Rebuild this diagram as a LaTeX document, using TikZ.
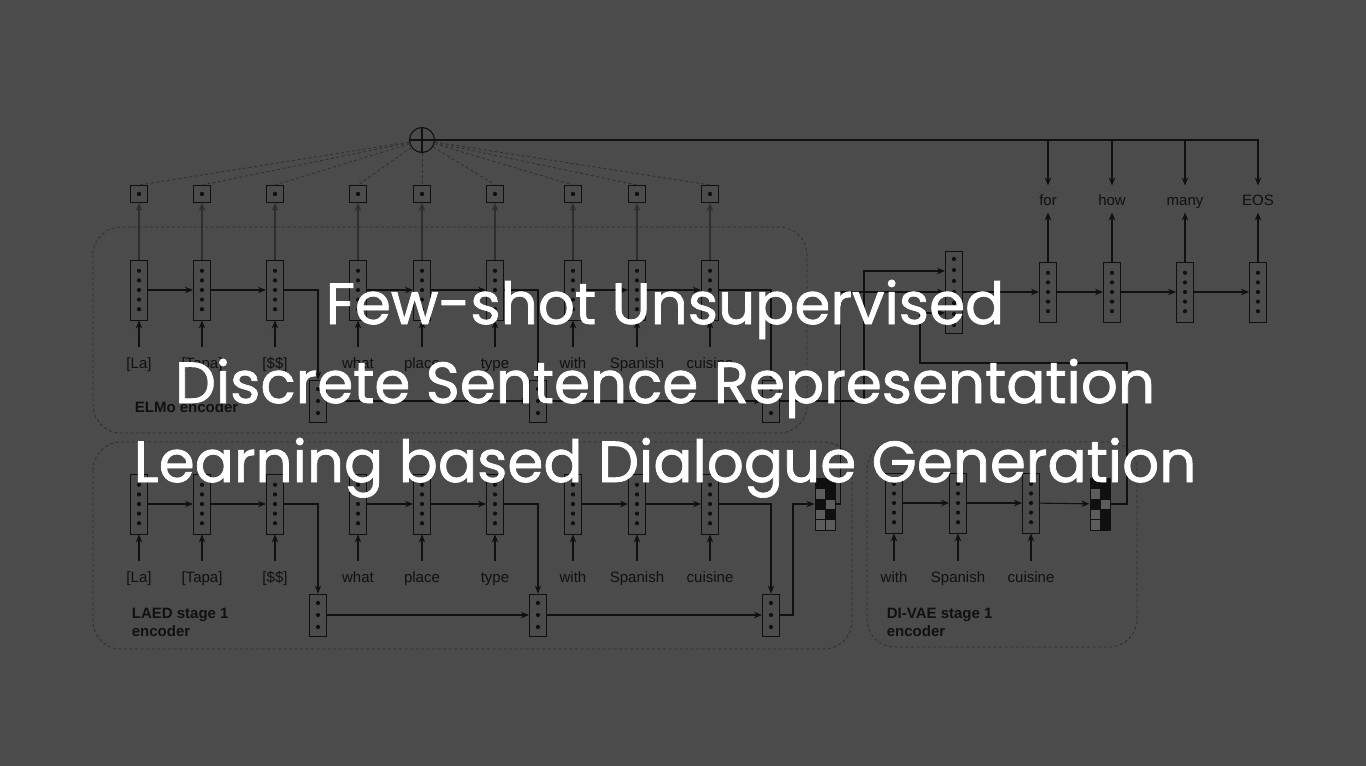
\documentclass[tikz,border=0pt]{standalone}
\usepackage{fontspec}
\setmainfont{Liberation Sans}
\newfontfamily\titlefont{Poppins}[FakeBold=1.2]
\usetikzlibrary{arrows.meta}
\definecolor{bgc}{HTML}{4B4B4B}
\definecolor{ink}{HTML}{101010}
\definecolor{faint}{HTML}{2E2E2E}
\definecolor{cellc}{HTML}{5C5C5C}
\tikzset{
	>={Stealth[length=8pt,width=6.5pt]},
	rnn/.style={draw=ink, line width=1pt, minimum width=17pt, minimum height=60pt, inner sep=0pt},
	hid/.style={draw=ink, line width=1pt, minimum width=17pt, minimum height=42pt, inner sep=0pt},
	catbox/.style={draw=ink, line width=1pt, minimum width=17pt, minimum height=82pt, inner sep=0pt},
	outbox/.style={draw=ink, line width=1pt, minimum size=17pt, inner sep=0pt},
	codebox/.style={minimum width=20pt, minimum height=52pt, inner sep=0pt},
	word/.style={text=ink, font=\fontsize{15}{18}\selectfont, text height=14pt, text depth=2pt, minimum height=28pt, inner sep=1pt},
	grp/.style={text=ink, font=\fontsize{15}{18}\selectfont\bfseries, align=left, anchor=west},
	frame/.style={draw=faint, dash pattern=on 3pt off 2.5pt, rounded corners=28pt, line width=0.8pt},
	c0/.style={fill=cellc, draw=ink, line width=0.6pt},
	c1/.style={fill=ink, draw=ink, line width=0.6pt},
	title/.style={text=white, font=\titlefont\fontsize{58}{64}\selectfont, anchor=base, inner sep=0pt}
}
\begin{document}
\begin{tikzpicture}[x=1pt, y=-1pt, color=ink, line width=1.1pt]
	\fill[bgc] (0,0) rectangle (1366,766);
	\useasboundingbox (0,0) rectangle (1366,766);

	\draw[frame] (93,227) rectangle (807,433);
	\draw[frame] (93,442) rectangle (852,649);
	\draw[frame] (867,442) rectangle (1137,647);
	\node[grp] at (131,407) {ELMo encoder};
	\node[grp] at (128,622) {LAED stage 1\\encoder};
	\node[grp] at (883,622) {DI-VAE stage 1\\encoder};

	\node[draw=ink, circle, minimum size=25pt, inner sep=0pt] (sum) at (422,140) {};
	\draw (sum.north) -- (sum.south) (sum.west) -- (sum.east);

	\foreach \i/\x/\w in {1/139/{[La]},2/202/{[Tapa]},3/275/{[\$\$]},4/358/what,5/422/place,6/495/type,7/573/with,8/637/Spanish,9/710/cuisine} {
		\node[rnn] (e\i) at (\x,290) {};
		\node[outbox] (o\i) at (\x,194) {};
		\node[word] (ew\i) at (\x,362) {\w};
		\node[rnn] (l\i) at (\x,504) {};
		\node[word] (lw\i) at (\x,576) {\w};
		\foreach \k in {-2,...,2} {
			\fill ([yshift=\k*9.6pt]e\i.center) circle (2.1pt);
			\fill ([yshift=\k*9.6pt]l\i.center) circle (2.1pt);
		}
		\fill (o\i) circle (2.2pt);
		\draw[->, faint] (e\i) -- (o\i);
		\draw[faint, dash pattern=on 3pt off 2.5pt, line width=0.8pt] (sum) -- (o\i.north);
		\draw[->] (ew\i) -- (e\i);
		\draw[->] (lw\i) -- (l\i);
	}
	\foreach \j/\x in {1/318,2/538,3/771} {
		\node[hid] (eh\j) at (\x,401) {};
		\node[hid] (lh\j) at (\x,615) {};
		\foreach \k in {-1,0,1} {
			\fill ([yshift=\k*12pt]eh\j.center) circle (2.1pt);
			\fill ([yshift=\k*12pt]lh\j.center) circle (2.1pt);
		}
	}
	\foreach \a/\b in {1/2,2/3,4/5,5/6,7/8,8/9} {
		\draw[->] (e\a) -- (e\b);
		\draw[->] (l\a) -- (l\b);
	}
	\foreach \a/\b in {3/1,6/2,9/3} {
		\draw[->] (e\a.east) -| (eh\b.north);
		\draw[->] (l\a.east) -| (lh\b.north);
	}
	\draw[->] (eh1) -- (eh2);
	\draw[->] (eh2) -- (eh3);
	\draw[->] (lh1) -- (lh2);
	\draw[->] (lh2) -- (lh3);

	\foreach \i/\x/\w in {1/894/with,2/958/Spanish,3/1031/cuisine} {
		\node[rnn] (d\i) at (\x,503) {};
		\node[word] (dw\i) at (\x,576) {\w};
		\foreach \k in {-2,...,2}
			\fill ([yshift=\k*9.6pt]d\i.center) circle (2.1pt);
		\draw[->] (dw\i) -- (d\i);
	}
	\draw[->] (d1) -- (d2);
	\draw[->] (d2) -- (d3);

	\node[codebox] (lgrid) at (825,504) {};
	\node[codebox] (dgrid) at (1100,504) {};
	\foreach \r/\a/\b in {0/1/1,1/0/1,2/1/0,3/0/1,4/0/0} {
		\draw[c\a] ([shift={(-10pt,26pt-\r*10.4pt)}]lgrid.center) rectangle ++(10pt,-10.4pt);
		\draw[c\b] ([shift={(0pt,26pt-\r*10.4pt)}]lgrid.center) rectangle ++(10pt,-10.4pt);
	}
	\foreach \r/\a/\b in {0/1/1,1/0/1,2/1/0,3/0/1,4/0/1} {
		\draw[c\a] ([shift={(-10pt,26pt-\r*10.4pt)}]dgrid.center) rectangle ++(10pt,-10.4pt);
		\draw[c\b] ([shift={(0pt,26pt-\r*10.4pt)}]dgrid.center) rectangle ++(10pt,-10.4pt);
	}
	\draw[->] (lh3.east) -- ++(13,0) |- (lgrid.west);
	\draw[->] (d3) -- (dgrid);

	\node[catbox] (cat) at (954,292) {};
	\foreach \k in {-3,...,3}
		\fill ([yshift=\k*11pt]cat.center) circle (2.1pt);
	\draw[->] (eh3.east) -- ++(84,0) |- ([yshift=21pt]cat.west);
	\draw[->] (lgrid.east) -- ++(5,0) |- (cat.west);
	\draw[->] (dgrid.east) -- (1127,504) |- (920,363) |- ([yshift=-21pt]cat.west);

	\foreach \m/\x/\w in {1/1048/for,2/1112/how,3/1185/many,4/1258/EOS} {
		\node[rnn] (r\m) at (\x,292) {};
		\node[word, minimum height=26pt] (w\m) at (\x,199) {\w};
		\foreach \k in {-2,...,2}
			\fill ([yshift=\k*9.6pt]r\m.center) circle (2.1pt);
		\draw[->] (r\m) -- (w\m);
	}
	\draw[->] (cat) -- (r1);
	\draw[->] (r1) -- (r2);
	\draw[->] (r2) -- (r3);
	\draw[->] (r3) -- (r4);
	\draw[->] (sum.east) -| (w4.north);
	\foreach \m in {1,2,3}
		\draw[->] (w\m.north |- sum.east) -- (w\m.north);

	\node[title] (t1) at (665,324) {Few-shot Unsupervised};
	\node[title] (t2) at (665,403) {Discrete Sentence Representation};
	\node[title] (t3) at (665,482) {Learning based Dialogue Generation};
\end{tikzpicture}
\end{document}
